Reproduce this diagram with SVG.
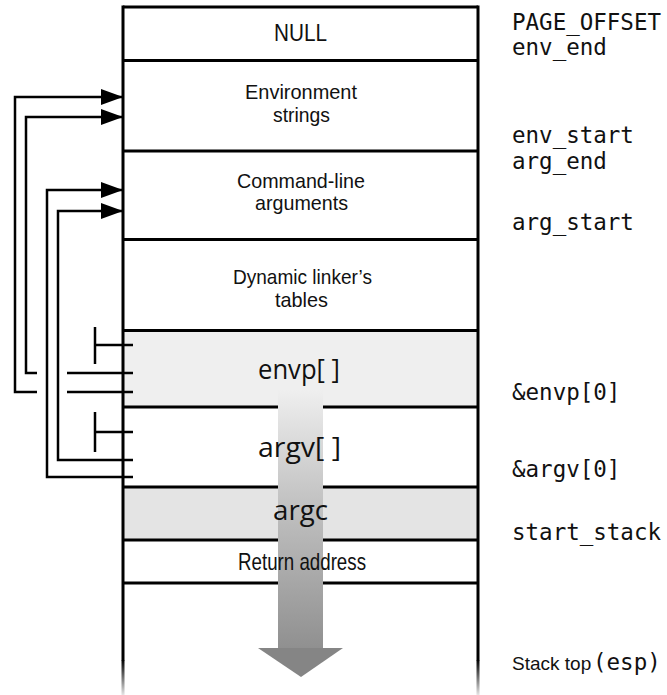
<svg xmlns="http://www.w3.org/2000/svg" width="667" height="695" viewBox="0 0 667 695">
<style>
.hl{stroke:#000;stroke-width:3}
.cn{stroke:#000;stroke-width:2.5;fill:none}
.lbl{font-family:"Liberation Sans",Arial,sans-serif;font-size:24px;fill:#111;text-anchor:middle}
.two{font-family:"Liberation Sans",Arial,sans-serif;font-size:21px;fill:#111;text-anchor:middle}
.big{font-family:"Open Sans","Noto Sans",sans-serif;font-size:27px;fill:#111;text-anchor:middle}
.mono{font-family:"DejaVu Sans Mono","Liberation Mono",monospace;font-size:22.5px;fill:#111}
.cond{font-family:"Liberation Sans",Arial,sans-serif;font-size:19px;fill:#111}
</style>
<defs>
<marker id="ah" markerWidth="22" markerHeight="16" refX="22" refY="8" orient="auto" markerUnits="userSpaceOnUse">
<path d="M0,0 L22,8 L0,16 Z" fill="#000"/>
</marker>
<linearGradient id="shaft" x1="0" y1="390" x2="0" y2="680" gradientUnits="userSpaceOnUse">
<stop offset="0" stop-color="#efefef"/>
<stop offset="0.35" stop-color="#c6c6c6"/>
<stop offset="1" stop-color="#858585"/>
</linearGradient>
<linearGradient id="fade" x1="0" y1="660" x2="0" y2="695" gradientUnits="userSpaceOnUse">
<stop offset="0" stop-color="#000" stop-opacity="1"/>
<stop offset="1" stop-color="#000" stop-opacity="0.1"/>
</linearGradient>
</defs>
<rect width="667" height="695" fill="#fff"/>

<rect x="123" y="331" width="355" height="76" fill="#efefef"/>
<rect x="123" y="487" width="355" height="53" fill="#e4e4e4"/>

<g id="column">
<line class="hl" x1="123" y1="7" x2="478" y2="7"/>
<rect x="121.5" y="5.5" width="3" height="655" fill="#000"/>
<rect x="476.5" y="5.5" width="3" height="655" fill="#000"/>
<rect x="121.5" y="660" width="3" height="35" fill="url(#fade)"/>
<rect x="476.5" y="660" width="3" height="35" fill="url(#fade)"/>
<line class="hl" x1="123" y1="60.5" x2="478" y2="60.5"/>
<line class="hl" x1="123" y1="151" x2="478" y2="151"/>
<line class="hl" x1="123" y1="239.5" x2="478" y2="239.5"/>
<line class="hl" x1="123" y1="330.5" x2="478" y2="330.5"/>
<line class="hl" x1="123" y1="407" x2="478" y2="407"/>
<line class="hl" x1="123" y1="487" x2="478" y2="487"/>
<line class="hl" x1="123" y1="540" x2="478" y2="540"/>
<line class="hl" x1="123" y1="583" x2="478" y2="583"/>
</g>

<g id="growth">
<rect x="278" y="390" width="45" height="259" fill="url(#shaft)"/>
<polygon points="258,648 343,648 301,677" fill="#858585"/>
</g>

<g id="null"><text class="lbl" x="300.5" y="41" textLength="53" lengthAdjust="spacingAndGlyphs">NULL</text></g>
<g id="env">
<text class="two"><tspan x="301" y="99" textLength="112" lengthAdjust="spacingAndGlyphs">Environment</tspan><tspan x="301.5" y="122" textLength="57" lengthAdjust="spacingAndGlyphs">strings</tspan></text>
</g>
<g id="cmd">
<text class="two"><tspan x="301" y="188" textLength="128" lengthAdjust="spacingAndGlyphs">Command-line</tspan><tspan x="301.5" y="210" textLength="93" lengthAdjust="spacingAndGlyphs">arguments</tspan></text>
</g>
<g id="dyn">
<text class="two"><tspan x="302.5" y="284" textLength="139" lengthAdjust="spacingAndGlyphs">Dynamic linker’s</tspan><tspan x="301.5" y="307" textLength="53" lengthAdjust="spacingAndGlyphs">tables</tspan></text>
</g>
<g id="envp"><text class="big" x="299" y="379" textLength="82" lengthAdjust="spacingAndGlyphs">envp[ ]</text></g>
<g id="argv"><text class="big" x="299.5" y="457" textLength="83" lengthAdjust="spacingAndGlyphs">argv[ ]</text></g>
<g id="argc"><text class="big" x="300.5" y="520" textLength="55" lengthAdjust="spacingAndGlyphs">argc</text></g>
<g id="ret"><text class="lbl" x="302" y="570" textLength="128" lengthAdjust="spacingAndGlyphs">Return address</text></g>

<g id="labels">
<text class="mono" x="512" y="30">PAGE_OFFSET</text>
<text class="mono" x="512" y="55">env_end</text>
<text class="mono" x="512" y="143">env_start</text>
<text class="mono" x="512" y="169">arg_end</text>
<text class="mono" x="512" y="230">arg_start</text>
<text class="mono" x="512" y="400">&amp;envp[0]</text>
<text class="mono" x="512" y="477">&amp;argv[0]</text>
<text class="mono" x="512" y="540">start_stack</text>
<text class="cond" y="670"><tspan x="512">Stack top</tspan><tspan class="mono" x="593">(esp)</tspan></text>
</g>

<g id="connectors">
<path class="cn" d="M37,392 H15 V97 H123" marker-end="url(#ah)"/>
<path class="cn" d="M37,373 H26 V117 H123" marker-end="url(#ah)"/>
<path class="cn" d="M133,477 H47 V190 H123" marker-end="url(#ah)"/>
<path class="cn" d="M133,460 H58 V211 H123" marker-end="url(#ah)"/>
<line class="cn" x1="67" y1="373" x2="133" y2="373"/>
<line class="cn" x1="67" y1="392" x2="133" y2="392"/>
<line class="cn" x1="95" y1="327" x2="95" y2="364"/>
<line class="cn" x1="95" y1="345" x2="133" y2="345"/>
<line class="cn" x1="95" y1="412" x2="95" y2="452"/>
<line class="cn" x1="95" y1="432" x2="133" y2="432"/>
</g>
</svg>
